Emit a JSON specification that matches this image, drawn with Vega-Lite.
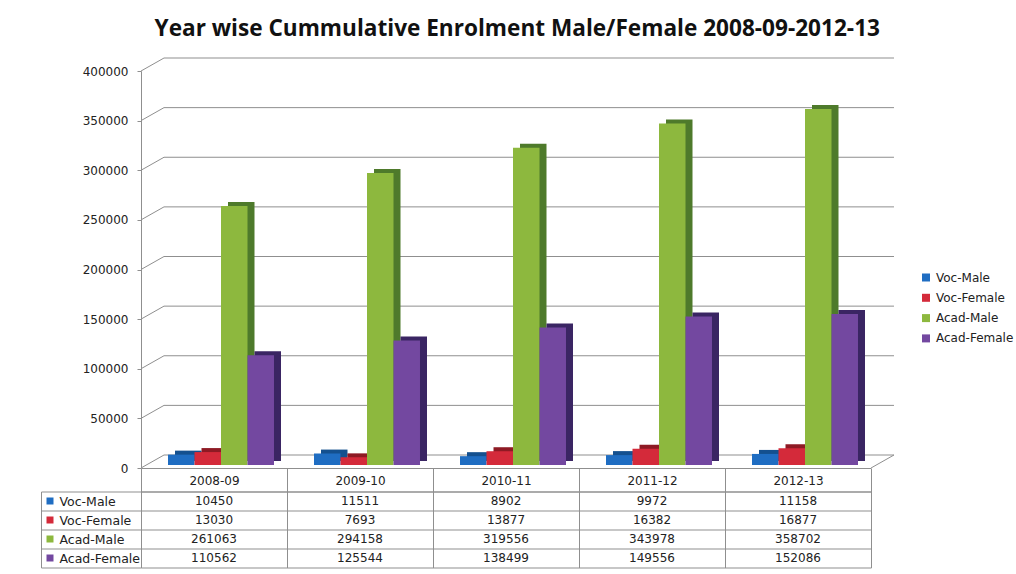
{
  "$schema": "https://vega.github.io/schema/vega-lite/v6.json",
  "background": "white",
  "padding": {"left": 40, "top": 18, "right": 5, "bottom": 5},
  "title": {"text": "Year wise Cummulative Enrolment Male/Female 2008-09-2012-13", "font": "Open Sans", "fontSize": 22.6, "fontWeight": "bold", "color": "#111", "anchor": "middle", "dx": -10, "offset": 16.5},
  "datasets": {
    "enrol": [
      {"year": "2008-09", "series": "Voc-Male", "value": 10450},
      {"year": "2008-09", "series": "Voc-Female", "value": 13030},
      {"year": "2008-09", "series": "Acad-Male", "value": 261063},
      {"year": "2008-09", "series": "Acad-Female", "value": 110562},
      {"year": "2009-10", "series": "Voc-Male", "value": 11511},
      {"year": "2009-10", "series": "Voc-Female", "value": 7693},
      {"year": "2009-10", "series": "Acad-Male", "value": 294158},
      {"year": "2009-10", "series": "Acad-Female", "value": 125544},
      {"year": "2010-11", "series": "Voc-Male", "value": 8902},
      {"year": "2010-11", "series": "Voc-Female", "value": 13877},
      {"year": "2010-11", "series": "Acad-Male", "value": 319556},
      {"year": "2010-11", "series": "Acad-Female", "value": 138499},
      {"year": "2011-12", "series": "Voc-Male", "value": 9972},
      {"year": "2011-12", "series": "Voc-Female", "value": 16382},
      {"year": "2011-12", "series": "Acad-Male", "value": 343978},
      {"year": "2011-12", "series": "Acad-Female", "value": 149556},
      {"year": "2012-13", "series": "Voc-Male", "value": 11158},
      {"year": "2012-13", "series": "Voc-Female", "value": 16877},
      {"year": "2012-13", "series": "Acad-Male", "value": 358702},
      {"year": "2012-13", "series": "Acad-Female", "value": 152086}
    ],
    "grid": [{"v": 0}, {"v": 50000}, {"v": 100000}, {"v": 150000}, {"v": 200000}, {"v": 250000}, {"v": 300000}, {"v": 350000}, {"v": 400000}]
  },
  "spacing": 23.5,
  "bounds": "flush",
  "vconcat": [
    {
      "width": 730,
      "height": 397,
      "layer": [
        {
          "data": {"name": "grid"},
          "mark": {"type": "rule", "color": "#8f8f8f", "strokeWidth": 1, "xOffset": -4, "x2Offset": 36, "yOffset": -13},
          "encoding": {
            "x": {"datum": "2008-09", "type": "nominal", "bandPosition": 0, "scale": {"paddingInner": 0.274, "paddingOuter": 0.137, "align": 0.675}, "axis": {"title": null, "labels": false, "ticks": false, "domain": true, "domainColor": "#8f8f8f"}},
            "x2": {"datum": "2012-13", "bandPosition": 1},
            "y": {"field": "v", "type": "quantitative", "scale": {"domain": [0, 400000], "nice": false},
                  "axis": {"title": null, "values": [0,50000,100000,150000,200000,250000,300000,350000,400000], "format": "d", "grid": false, "tickSize": 4, "labelPadding": 9, "domainColor": "#8f8f8f", "tickColor": "#8f8f8f", "labelFont": "DejaVu Sans", "labelFontSize": 12, "labelColor": "#222"}}
          }
        },
        {
          "data": {"name": "grid"},
          "mark": {"type": "rule", "color": "#8f8f8f", "strokeWidth": 1, "xOffset": -27, "x2Offset": -4, "y2Offset": -13},
          "encoding": {
            "x": {"datum": "2008-09", "type": "nominal", "bandPosition": 0, "scale": {"paddingInner": 0.274, "paddingOuter": 0.137, "align": 0.675}, "axis": {"title": null, "labels": false, "ticks": false, "domain": true, "domainColor": "#8f8f8f"}},
            "x2": {"datum": "2008-09", "bandPosition": 0},
            "y": {"field": "v", "type": "quantitative", "scale": {"domain": [0, 400000], "nice": false},
                  "axis": {"title": null, "values": [0,50000,100000,150000,200000,250000,300000,350000,400000], "format": "d", "grid": false, "tickSize": 4, "labelPadding": 9, "domainColor": "#8f8f8f", "tickColor": "#8f8f8f", "labelFont": "DejaVu Sans", "labelFontSize": 12, "labelColor": "#222"}},
            "y2": {"field": "v"}
          }
        },
        {
          "data": {"name": "grid"},
          "transform": [{"filter": "datum.v === 0"}],
          "mark": {"type": "rule", "color": "#8f8f8f", "strokeWidth": 1, "xOffset": 13, "x2Offset": 36, "y2Offset": -13},
          "encoding": {
            "x": {"datum": "2012-13", "type": "nominal", "bandPosition": 1, "scale": {"paddingInner": 0.274, "paddingOuter": 0.137, "align": 0.675}, "axis": {"title": null, "labels": false, "ticks": false, "domain": true, "domainColor": "#8f8f8f"}},
            "x2": {"datum": "2012-13", "bandPosition": 1},
            "y": {"field": "v", "type": "quantitative", "scale": {"domain": [0, 400000], "nice": false},
                  "axis": {"title": null, "values": [0,50000,100000,150000,200000,250000,300000,350000,400000], "format": "d", "grid": false, "tickSize": 4, "labelPadding": 9, "domainColor": "#8f8f8f", "tickColor": "#8f8f8f", "labelFont": "DejaVu Sans", "labelFontSize": 12, "labelColor": "#222"}},
            "y2": {"field": "v"}
          }
        },
        {
          "data": {"name": "enrol"},
          "transform": [{"filter": "datum.series === 'Voc-Male'"}],
          "mark": {"type": "bar", "width": 26.5, "xOffset": -32.75, "yOffset": -7, "y2Offset": -7, "color": "#14508f"},
          "encoding": {
            "x": {"field": "year", "type": "nominal", "scale": {"paddingInner": 0.274, "paddingOuter": 0.137, "align": 0.675}, "axis": {"title": null, "labels": false, "ticks": false, "domain": true, "domainColor": "#8f8f8f"}},
            "y": {"field": "value", "type": "quantitative", "scale": {"domain": [0, 400000], "nice": false}, "axis": {"title": null, "values": [0,50000,100000,150000,200000,250000,300000,350000,400000], "format": "d", "grid": false, "tickSize": 4, "labelPadding": 9, "domainColor": "#8f8f8f", "tickColor": "#8f8f8f", "labelFont": "DejaVu Sans", "labelFontSize": 12, "labelColor": "#222"}}
          }
        },
        {
          "data": {"name": "enrol"},
          "transform": [{"filter": "datum.series === 'Voc-Female'"}],
          "mark": {"type": "bar", "width": 26.5, "xOffset": -6.25, "yOffset": -7, "y2Offset": -7, "color": "#8e1a24"},
          "encoding": {
            "x": {"field": "year", "type": "nominal", "scale": {"paddingInner": 0.274, "paddingOuter": 0.137, "align": 0.675}, "axis": {"title": null, "labels": false, "ticks": false, "domain": true, "domainColor": "#8f8f8f"}},
            "y": {"field": "value", "type": "quantitative", "scale": {"domain": [0, 400000], "nice": false}, "axis": {"title": null, "values": [0,50000,100000,150000,200000,250000,300000,350000,400000], "format": "d", "grid": false, "tickSize": 4, "labelPadding": 9, "domainColor": "#8f8f8f", "tickColor": "#8f8f8f", "labelFont": "DejaVu Sans", "labelFontSize": 12, "labelColor": "#222"}}
          }
        },
        {
          "data": {"name": "enrol"},
          "transform": [{"filter": "datum.series === 'Acad-Male'"}],
          "mark": {"type": "bar", "width": 26.5, "xOffset": 20.25, "yOffset": -7, "y2Offset": -7, "color": "#4e7a2b"},
          "encoding": {
            "x": {"field": "year", "type": "nominal", "scale": {"paddingInner": 0.274, "paddingOuter": 0.137, "align": 0.675}, "axis": {"title": null, "labels": false, "ticks": false, "domain": true, "domainColor": "#8f8f8f"}},
            "y": {"field": "value", "type": "quantitative", "scale": {"domain": [0, 400000], "nice": false}, "axis": {"title": null, "values": [0,50000,100000,150000,200000,250000,300000,350000,400000], "format": "d", "grid": false, "tickSize": 4, "labelPadding": 9, "domainColor": "#8f8f8f", "tickColor": "#8f8f8f", "labelFont": "DejaVu Sans", "labelFontSize": 12, "labelColor": "#222"}}
          }
        },
        {
          "data": {"name": "enrol"},
          "transform": [{"filter": "datum.series === 'Acad-Female'"}],
          "mark": {"type": "bar", "width": 26.5, "xOffset": 46.75, "yOffset": -7, "y2Offset": -7, "color": "#3a2563"},
          "encoding": {
            "x": {"field": "year", "type": "nominal", "scale": {"paddingInner": 0.274, "paddingOuter": 0.137, "align": 0.675}, "axis": {"title": null, "labels": false, "ticks": false, "domain": true, "domainColor": "#8f8f8f"}},
            "y": {"field": "value", "type": "quantitative", "scale": {"domain": [0, 400000], "nice": false}, "axis": {"title": null, "values": [0,50000,100000,150000,200000,250000,300000,350000,400000], "format": "d", "grid": false, "tickSize": 4, "labelPadding": 9, "domainColor": "#8f8f8f", "tickColor": "#8f8f8f", "labelFont": "DejaVu Sans", "labelFontSize": 12, "labelColor": "#222"}}
          }
        },
        {
          "data": {"name": "enrol"},
          "mark": {"type": "bar", "yOffset": -3, "y2Offset": -3},
          "encoding": {
            "x": {"field": "year", "type": "nominal", "scale": {"paddingInner": 0.274, "paddingOuter": 0.137, "align": 0.675}, "axis": {"title": null, "labels": false, "ticks": false, "domain": true, "domainColor": "#8f8f8f"}},
            "xOffset": {"field": "series", "type": "nominal", "scale": {"domain": ["Voc-Male", "Voc-Female", "Acad-Male", "Acad-Female"]}},
            "y": {"field": "value", "type": "quantitative", "scale": {"domain": [0, 400000], "nice": false}, "axis": {"title": null, "values": [0,50000,100000,150000,200000,250000,300000,350000,400000], "format": "d", "grid": false, "tickSize": 4, "labelPadding": 9, "domainColor": "#8f8f8f", "tickColor": "#8f8f8f", "labelFont": "DejaVu Sans", "labelFontSize": 12, "labelColor": "#222"}},
            "color": {"field": "series", "type": "nominal",
                      "scale": {"domain": ["Voc-Male", "Voc-Female", "Acad-Male", "Acad-Female"], "range": ["#1f6dc2", "#d42a3a", "#8db83e", "#7348a0"]},
                      "legend": {"orient": "none", "legendX": 779, "legendY": 200.5, "title": null, "symbolType": "square", "symbolSize": 64, "labelFont": "DejaVu Sans", "labelFontSize": 12, "labelColor": "#222", "rowPadding": 8.3, "labelOffset": 4, "padding": 0}}
          }
        }
      ]
    },
    {
      "width": 730,
      "height": 76,
      "data": {"name": "enrol"},
      "layer": [
        {
          "mark": {"type": "text", "font": "DejaVu Sans", "fontSize": 12, "color": "#222"},
          "encoding": {
            "x": {"field": "year", "type": "nominal", "scale": {"paddingInner": 0, "paddingOuter": 0},
                  "axis": {"orient": "top", "title": null, "tickBand": "extent", "tickSize": 23, "labelPadding": -11.5, "labelBaseline": "middle", "labelAngle": 0, "grid": true, "gridColor": "#8f8f8f", "tickColor": "#8f8f8f", "domainColor": "#8f8f8f", "labelFont": "DejaVu Sans", "labelFontSize": 12, "labelColor": "#222"}},
            "y": {"field": "series", "type": "nominal", "scale": {"domain": ["Voc-Male", "Voc-Female", "Acad-Male", "Acad-Female"], "paddingInner": 0, "paddingOuter": 0},
                  "axis": {"title": null, "tickBand": "extent", "tickSize": 100, "labelAlign": "left", "labelPadding": -18, "grid": true, "gridColor": "#8f8f8f", "tickColor": "#8f8f8f", "domainColor": "#8f8f8f", "labelFont": "DejaVu Sans", "labelFontSize": 12.5, "labelColor": "#222"}},
            "text": {"field": "value", "type": "quantitative", "format": "d"}
          }
        },
        {
          "transform": [{"filter": "datum.year === '2008-09'"}],
          "mark": {"type": "square", "size": 49, "opacity": 1, "xOffset": -91},
          "encoding": {
            "x": {"field": "year", "type": "nominal", "bandPosition": 0, "scale": {"paddingInner": 0, "paddingOuter": 0}},
            "y": {"field": "series", "type": "nominal", "scale": {"domain": ["Voc-Male", "Voc-Female", "Acad-Male", "Acad-Female"], "paddingInner": 0, "paddingOuter": 0},
                  "axis": {"orient": "left", "offset": 100, "title": null, "labels": false, "ticks": false, "grid": false, "domain": true, "domainColor": "#8f8f8f"}},
            "color": {"field": "series", "type": "nominal",
                      "scale": {"domain": ["Voc-Male", "Voc-Female", "Acad-Male", "Acad-Female"], "range": ["#1f6dc2", "#d42a3a", "#8db83e", "#7348a0"]}}
          }
        }
      ],
      "resolve": {"axis": {"y": "independent"}}
    }
  ],
  "config": {
    "view": {"stroke": null},
    "legend": {"symbolType": "square"}
  }
}
